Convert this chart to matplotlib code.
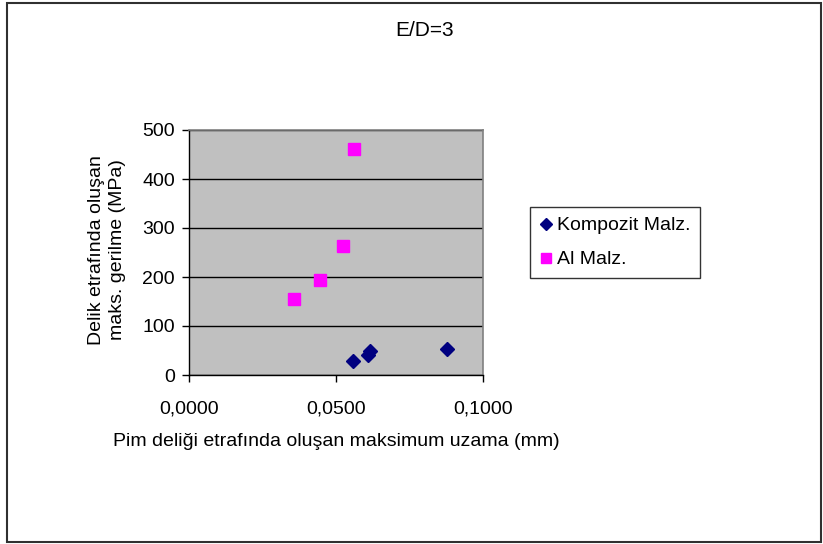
import matplotlib
matplotlib.use("Agg")
import matplotlib.pyplot as plt
from matplotlib.patches import Rectangle
from matplotlib.lines import Line2D
from matplotlib.ticker import FuncFormatter, MultipleLocator

plt.rcParams['font.family'] = ['Liberation Sans', 'DejaVu Sans']

title = "E/D=3"
xlabel = "Pim deliği etrafında oluşan maksimum uzama (mm)"
ylabel = "Delik etrafında oluşan\nmaks. gerilme (MPa)"

series_names = ["Kompozit Malz.", "Al Malz."]
kompozit_x = [0.0559, 0.0610, 0.0617, 0.0878]
kompozit_y = [28, 40, 48, 54]
al_x = [0.0357, 0.0447, 0.0524, 0.0562]
al_y = [155, 194, 263, 461]

W, H = 823, 544
FS = 14
fig = plt.figure(figsize=(W / 100, H / 100), dpi=100)
fig.patch.set_facecolor('white')

# outer border
fig.patches.append(Rectangle((7 / W, 2 / H), (821 - 7) / W, (541 - 2) / H,
                             transform=fig.transFigure, fill=False,
                             edgecolor='#303030', linewidth=1.5))

L, R, T, B = 189, 483, 130, 375
ax = fig.add_axes([L / W, 1 - B / H, (R - L) / W, (B - T) / H])
ax.set_facecolor('#C0C0C0')

ax.set_xlim(0, 0.1)
ax.set_ylim(0, 500)
ax.xaxis.set_major_locator(MultipleLocator(0.05))
ax.yaxis.set_major_locator(MultipleLocator(100))
ax.xaxis.set_major_formatter(FuncFormatter(lambda v, p: f"{v:.4f}".replace('.', ',')))
ax.yaxis.set_major_formatter(FuncFormatter(lambda v, p: f"{v:.0f}"))

ax.grid(axis='y', color='black', linewidth=1)
ax.set_axisbelow(True)

for s in ['top', 'right']:
    ax.spines[s].set_color('#808080')
    ax.spines[s].set_linewidth(1.2)
for s in ['left', 'bottom']:
    ax.spines[s].set_color('black')
    ax.spines[s].set_linewidth(1.0)

ax.tick_params(axis='both', direction='out', length=5, width=1, labelsize=FS, colors='black')
ax.tick_params(axis='x', pad=13)
ax.tick_params(axis='y', pad=5)

ax.plot(kompozit_x, kompozit_y, linestyle='none', marker='D', markersize=7.5,
        color='#000080', clip_on=False, zorder=3)
ax.plot(al_x, al_y, linestyle='none', marker='s', markersize=8.5,
        color='#FF00FF', clip_on=False, zorder=3)

fig.text(425 / W, 1 - 30 / H, title, ha='center', va='center', fontsize=15)
fig.text(336 / W, 1 - 441 / H, xlabel, ha='center', va='center', fontsize=FS)
fig.text(107 / W, 1 - 250 / H, ylabel, ha='center', va='center', rotation=90,
         fontsize=FS, linespacing=1.35)

handles = [
    Line2D([], [], linestyle='none', marker='D', markersize=6, color='#000080'),
    Line2D([], [], linestyle='none', marker='s', markersize=7, color='#FF00FF'),
]
leg = fig.legend(handles, series_names, loc='upper left',
                 bbox_to_anchor=(530 / W, 1 - 207 / H), borderaxespad=0,
                 frameon=True, fancybox=False, edgecolor='black', fontsize=FS,
                 handlelength=0.6, handletextpad=0.3, borderpad=0.5,
                 labelspacing=0.85)
leg.get_frame().set_linewidth(1.0)

fig.savefig("out.png", dpi=100, facecolor='white')
